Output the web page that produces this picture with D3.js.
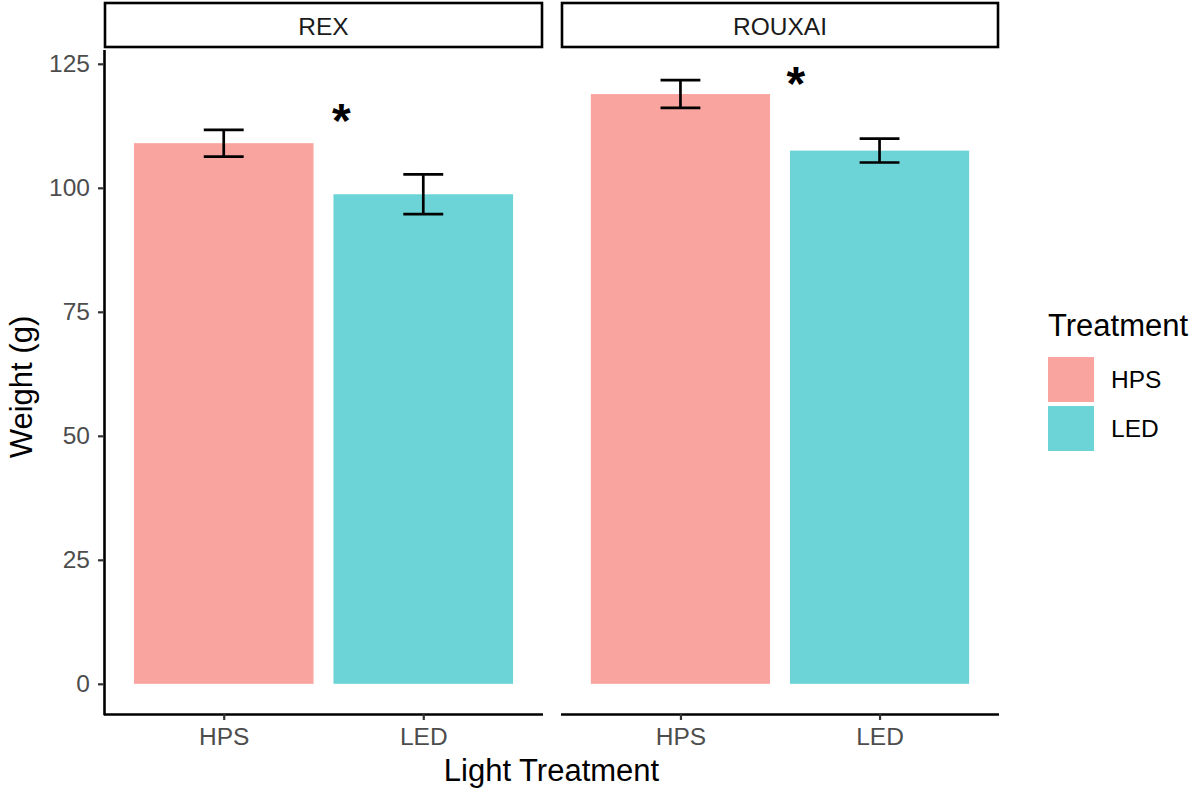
<!DOCTYPE html>
<html>
<head>
<meta charset="utf-8">
<script src="https://cdn.jsdelivr.net/npm/d3@7"></script>
<style>
  html, body { margin: 0; padding: 0; background: #ffffff; }
  svg { display: block; font-family: "Liberation Sans", Arial, sans-serif; }
</style>
</head>
<body>
<svg id="chart" width="1194" height="790"></svg>
<script>
// Mean fresh weight (g) per cultivar and light treatment, with standard errors
const cultivars = ["REX", "ROUXAI"];
const treatments = ["HPS", "LED"];
const rexMeans = [109.0, 98.7];
const rexSE = [2.7, 4.0];
const rouxaiMeans = [118.9, 107.5];
const rouxaiSE = [2.8, 2.4];
const yTicks = [0, 25, 50, 75, 100, 125];
// significance markers: [cultivar, x position on the category axis, y value]
const sigMarks = [["REX", 1.59, 113.6], ["ROUXAI", 1.58, 121.1]];

const fills = { HPS: "#F9A49E", LED: "#6CD4D7" };

const rows = [];
cultivars.forEach((c, ci) => {
  const means = ci === 0 ? rexMeans : rouxaiMeans;
  const ses = ci === 0 ? rexSE : rouxaiSE;
  treatments.forEach((t, ti) => rows.push({ cultivar: c, treatment: t, mean: means[ti], se: ses[ti] }));
});

const svg = d3.select("#chart");
const panelTop = 50, panelBottom = 714;
const panels = { REX: [104, 543], ROUXAI: [561, 999] };

// y scale with 5% expansion around [0, max(mean + se)]
const yMax = d3.max(rows, d => d.mean + d.se);
const pad = yMax * 0.05;
const y = d3.scaleLinear().domain([-pad, yMax + pad]).range([panelBottom, panelTop]);

const tickGrey = "#4D4D4D";
const tickFont = 24.5;
const titleFont = 31;

cultivars.forEach((c, ci) => {
  const [x0, x1] = panels[c];
  // discrete axis: 0.6 units of padding on each side, bars 0.9 wide
  const step = (x1 - x0) / (treatments.length - 1 + 1.2);
  const xc = d3.scalePoint().domain(treatments).range([x0 + 0.6 * step, x1 - 0.6 * step]);
  const xNum = d3.scaleLinear().domain([1, treatments.length]).range(xc.range());
  const g = svg.append("g");
  const data = rows.filter(r => r.cultivar === c);

  // bars
  g.selectAll("rect.bar").data(data).join("rect")
    .attr("class", "bar")
    .attr("x", d => xc(d.treatment) - 0.45 * step)
    .attr("width", 0.9 * step)
    .attr("y", d => y(d.mean))
    .attr("height", d => y(0) - y(d.mean))
    .attr("fill", d => fills[d.treatment]);

  // error bars
  const cap = 0.1 * step;
  const eb = g.selectAll("g.eb").data(data).join("g").attr("class", "eb")
    .attr("stroke", "#000").attr("stroke-width", 2.7).attr("fill", "none");
  eb.append("line").attr("x1", d => xc(d.treatment)).attr("x2", d => xc(d.treatment))
    .attr("y1", d => y(d.mean + d.se)).attr("y2", d => y(d.mean - d.se));
  eb.append("line").attr("x1", d => xc(d.treatment) - cap).attr("x2", d => xc(d.treatment) + cap)
    .attr("y1", d => y(d.mean + d.se)).attr("y2", d => y(d.mean + d.se));
  eb.append("line").attr("x1", d => xc(d.treatment) - cap).attr("x2", d => xc(d.treatment) + cap)
    .attr("y1", d => y(d.mean - d.se)).attr("y2", d => y(d.mean - d.se));

  // significance marker
  sigMarks.filter(m => m[0] === c).forEach(m => {
    g.append("text").attr("x", xNum(m[1])).attr("y", y(m[2]))
      .attr("text-anchor", "middle").attr("dominant-baseline", "central")
      .attr("font-size", 48).attr("font-weight", "bold").attr("fill", "#000").text("*");
  });

  // x axis
  const xAxis = g.append("g").attr("transform", `translate(0,${panelBottom})`)
    .call(d3.axisBottom(xc).tickSize(6).tickPadding(8).tickSizeOuter(0));
  xAxis.select(".domain").attr("stroke", "#000").attr("stroke-width", 2.6)
    .attr("d", `M${x0},0.5H${x1}`);
  xAxis.selectAll(".tick line").attr("stroke", "#333").attr("stroke-width", 2.2);
  xAxis.selectAll(".tick text").attr("font-size", tickFont).attr("fill", tickGrey)
    .attr("font-family", "Liberation Sans, Arial, sans-serif");

  // strip
  g.append("rect").attr("x", x0 + 1).attr("y", 3).attr("width", x1 - x0 - 2).attr("height", 44)
    .attr("fill", "#fff").attr("stroke", "#000").attr("stroke-width", 2.6);
  g.append("text").attr("x", (x0 + x1) / 2).attr("y", 26).attr("text-anchor", "middle")
    .attr("dominant-baseline", "central").attr("font-size", tickFont).attr("fill", "#1A1A1A").text(c);

  // y axis only on the first panel
  if (ci === 0) {
    const yAxis = g.append("g").attr("transform", `translate(${x0},0)`)
      .call(d3.axisLeft(y).tickValues(yTicks).tickSize(6).tickPadding(8).tickSizeOuter(0));
    yAxis.select(".domain").attr("stroke", "#000").attr("stroke-width", 2.6)
      .attr("d", `M0.5,${panelTop}V${panelBottom + 1.3}`);
    yAxis.selectAll(".tick line").attr("stroke", "#333").attr("stroke-width", 2.2);
    yAxis.selectAll(".tick text").attr("font-size", tickFont).attr("fill", tickGrey)
      .attr("font-family", "Liberation Sans, Arial, sans-serif");
  }
});

// axis titles
svg.append("text").attr("x", (panels.REX[0] + panels.ROUXAI[1]) / 2).attr("y", 781)
  .attr("text-anchor", "middle").attr("font-size", titleFont).attr("fill", "#000").text("Light Treatment");
svg.append("text").attr("transform", `translate(32,${(panelTop + panelBottom) / 2 + 5}) rotate(-90)`)
  .attr("text-anchor", "middle").attr("font-size", titleFont).attr("fill", "#000").text("Weight (g)");

// legend
const lg = svg.append("g").attr("transform", "translate(1048,0)");
lg.append("text").attr("x", 0).attr("y", 336).attr("font-size", titleFont).attr("fill", "#000").text("Treatment");
treatments.forEach((t, i) => {
  lg.append("rect").attr("x", 0).attr("y", 357 + i * 49).attr("width", 46).attr("height", 45).attr("fill", fills[t]);
  lg.append("text").attr("x", 63).attr("y", 379.5 + i * 49).attr("dominant-baseline", "central")
    .attr("font-size", tickFont).attr("fill", "#000").text(t);
});
</script>
</body>
</html>
